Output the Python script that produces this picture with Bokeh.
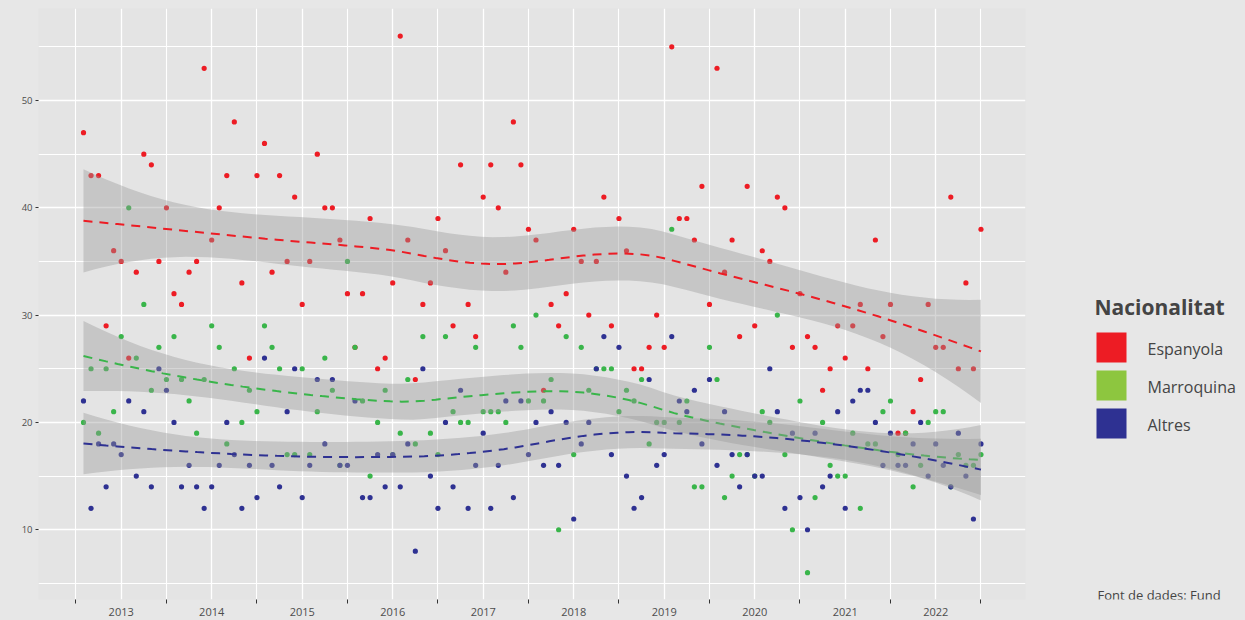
import numpy as np
from bokeh.plotting import figure
from bokeh.models import Range1d, FixedTicker
from bokeh.layouts import row
from bokeh.embed import file_html
from bokeh.resources import INLINE
from bokeh.core.properties import value

# ---------------- data ----------------
START_YEAR = 2012
START_MONTH = 8          # first observation: August 2012, monthly
N_MONTHS = 120

espanyola = [47, 43, 43, 29, 36, 35, 26, 34, 45, 44, 35, 40, 32, 31, 34, 35, 53, 37, 40, 43,
             48, 33, 26, 43, 46, 34, 43, 35, 41, 31, 35, 45, 40, 40, 37, 32, 27, 32, 39, 25, 26, 33,
             56, 37, 24, 31, 33, 39, 36, 29, 44, 31, 28, 41, 44, 40, 34, 48, 44, 38, 37, 23, 31, 29,
             32, 38, 35, 30, 35, 41, 29, 39, 36, 25, 25, 27, 30, 27, 55, 39, 39, 37, 42, 31, 53, 34,
             37, 28, 42, 29, 36, 35, 41, 40, 27, 32, 28, 27, 23, 25, 29, 26, 29, 31, 25, 37, 28, 31,
             19, 19, 21, 24, 31, 27, 27, 41, 25, 33, 25, 38]

marroquina = [20, 25, 19, 25, 21, 28, 40, 26, 31, 23, 27, 24, 28, 24, 22, 19, 24, 29, 27, 18,
              25, 20, 23, 21, 29, 27, 25, 17, 17, 25, 17, 21, 26, 23, 16, 35, 27, 22, 15, 20, 23, 17,
              19, 24, 18, 28, 19, 17, 28, 21, 20, 20, 27, 21, 21, 21, 20, 29, 27, 22, 30, 22, 24, 10,
              28, 17, 27, 23, 25, 25, 25, 21, 23, 22, 24, 18, 20, 20, 38, 20, 22, 14, 14, 27, 24, 13,
              15, 17, 17, 15, 21, 20, 30, 17, 10, 22, 6, 13, 20, 16, 15, 15, 19, 12, 18, 18, 21, 22,
              17, 19, 14, 16, 20, 21, 21, 14, 17, 16, 16, 17]

altres = [22, 12, 18, 14, 18, 17, 22, 15, 21, 14, 25, 23, 20, 14, 16, 14, 12, 14, 16, 20,
          17, 12, 16, 13, 26, 16, 14, 21, 25, 13, 16, 24, 18, 24, 16, 16, 22, 13, 13, 17, 14, 17,
          14, 18, 8, 25, 15, 12, 20, 14, 23, 12, 16, 19, 12, 16, 22, 13, 22, 17, 20, 16, 21, 16,
          20, 11, 18, 20, 25, 28, 17, 27, 15, 12, 13, 24, 16, 17, 28, 22, 21, 23, 18, 24, 16, 21,
          17, 14, 17, 15, 15, 25, 21, 12, 19, 13, 10, 19, 14, 15, 21, 12, 22, 23, 23, 20, 16, 19,
          16, 16, 18, 20, 15, 18, 16, 14, 19, 15, 11, 18]

SERIES_NAMES = ["Espanyola", "Marroquina", "Altres"]
POINT_COLORS = ["#ED1C24", "#39B54A", "#2E3192"]
LEGEND_COLORS = ["#ED1C24", "#8DC63F", "#2E3192"]
YEAR_TICKS = [2013, 2014, 2015, 2016, 2017, 2018, 2019, 2020, 2021, 2022]
YEAR_LABELS = ["2013", "2014", "2015", "2016", "2017", "2018", "2019", "2020", "2021", "2022"]
Y_TICKS = [10, 20, 30, 40, 50]
Y_MINOR = [5, 15, 25, 35, 45, 55]
LEGEND_TITLE = "Nacionalitat"
SOURCE_TEXT = "Font de dades: Fund"

PANEL_BG = "#E4E4E4"
OUTER_BG = "#E7E7E7"
FONT = "Open Sans"

# month positions as decimal years
months = np.arange(N_MONTHS)
xdates = START_YEAR + (START_MONTH - 1 + months) / 12.0


# ---------------- loess (span .75, degree 2) with 95% band ----------------
def _t975(df):
    z = 1.959964
    g1 = (z ** 3 + z) / 4
    g2 = (5 * z ** 5 + 16 * z ** 3 + 3 * z) / 96
    g3 = (3 * z ** 7 + 19 * z ** 5 + 17 * z ** 3 - 15 * z) / 384
    return z + g1 / df + g2 / df ** 2 + g3 / df ** 3


def loess_band(x, y, n_out=80, span=0.75):
    x = np.asarray(x, float)
    y = np.asarray(y, float)
    n = len(x)
    q = int(np.floor(n * span))

    def row_op(x0):
        d = np.abs(x - x0)
        h = np.sort(d)[q - 1]
        u = d / h
        w = np.where(u < 1, (1 - u ** 3) ** 3, 0.0)
        X = np.vstack([np.ones(n), x - x0, (x - x0) ** 2]).T
        XtW = X.T * w
        return np.linalg.solve(XtW @ X, XtW)[0]

    L = np.array([row_op(xi) for xi in x])
    res = y - L @ y
    IL = np.eye(n) - L
    M = IL.T @ IL
    d1 = np.trace(M)
    d2 = np.trace(M @ M)
    s = np.sqrt(np.sum(res ** 2) / d1)
    tq = _t975(d1 ** 2 / d2)
    xs = np.linspace(x.min(), x.max(), n_out)
    fit, se = [], []
    for x0 in xs:
        l = row_op(x0)
        fit.append(l @ y)
        se.append(s * np.sqrt(np.sum(l ** 2)))
    fit = np.array(fit)
    se = np.array(se)
    return xs, fit, fit - tq * se, fit + tq * se


# ---------------- main figure ----------------
TOP_B, BOTTOM_B = 8, 21
p = figure(width=1029, height=620, output_backend="svg", toolbar_location=None,
           x_range=Range1d(2012.0862, 2022.992), y_range=Range1d(3.50, 58.57),
           min_border_left=38, min_border_right=4, min_border_top=TOP_B, min_border_bottom=BOTTOM_B)
p.background_fill_color = PANEL_BG
p.border_fill_color = OUTER_BG
p.outline_line_color = None

p.xaxis.ticker = FixedTicker(ticks=YEAR_TICKS, minor_ticks=[y + 0.5 for y in range(2012, 2023)])
p.xaxis.major_label_overrides = {t: lab for t, lab in zip(YEAR_TICKS, YEAR_LABELS)}
p.yaxis.ticker = FixedTicker(ticks=Y_TICKS, minor_ticks=Y_MINOR)

for ax in (p.xaxis, p.yaxis):
    ax.axis_line_color = None
    ax.major_label_text_font = FONT
    ax.major_label_text_color = "#4D4D4D"

p.xaxis.major_tick_line_color = None
p.xaxis.minor_tick_line_color = "#333333"
p.xaxis.minor_tick_out = 4
p.xaxis.minor_tick_in = 0
p.xaxis.major_label_standoff = 2
p.xaxis.major_label_text_font_size = "11px"

p.yaxis.minor_tick_line_color = None
p.yaxis.major_tick_line_color = "#333333"
p.yaxis.major_tick_out = 3
p.yaxis.major_tick_in = 0
p.yaxis.major_label_standoff = 2
p.yaxis.major_label_text_font_size = "9.5px"

for g in (p.xgrid, p.ygrid):
    g.grid_line_color = "white"
    g.grid_line_width = 1.3
    g.minor_grid_line_color = "white"
    g.minor_grid_line_width = 1.1

series_values = [espanyola, marroquina, altres]

# points first (drawn under the smoothing ribbons)
for vals, col in zip(series_values, POINT_COLORS):
    p.scatter(xdates, vals, size=5.2, fill_color=col, line_color=None)

# loess ribbons and dashed lines
for vals, col in zip(series_values, POINT_COLORS):
    xs, fit, lo, hi = loess_band(xdates, vals)
    p.varea(x=xs, y1=lo, y2=hi, fill_color="#999999", fill_alpha=0.4)
    p.line(xs, fit, line_color=col, line_width=2, line_dash="9 7")

# ---------------- legend panel (coordinates = page pixels) ----------------
LG_W = 1245 - 1029
lg = figure(width=LG_W, height=620, output_backend="svg", toolbar_location=None,
            x_range=Range1d(1029, 1245), y_range=Range1d(620 - BOTTOM_B, TOP_B),
            x_axis_type=None, y_axis_type=None,
            min_border_left=0, min_border_right=0, min_border_top=TOP_B, min_border_bottom=BOTTOM_B)
lg.background_fill_color = OUTER_BG
lg.border_fill_color = OUTER_BG
lg.outline_line_color = None
lg.xgrid.visible = False
lg.ygrid.visible = False

lg.text(x=[1094], y=[306], text=[LEGEND_TITLE], text_font=value(FONT), text_font_size="21px",
        text_color="#444444", text_baseline="middle", text_font_style="bold")
sw_top = [332, 370, 408]
lg.quad(left=[1096] * 3, right=[1126] * 3, top=sw_top, bottom=[t + 30 for t in sw_top],
        fill_color=LEGEND_COLORS, line_color=None)
lg.text(x=[1147] * 3, y=[t + 16 for t in sw_top], text=SERIES_NAMES, text_font=value(FONT),
        text_font_size="16px", text_color="#444444", text_baseline="middle")
lg.text(x=[1097], y=[594], text=[SOURCE_TEXT], text_font=value(FONT), text_font_size="13px",
        text_color="#444444", text_baseline="alphabetic")

layout = row(p, lg, spacing=0)
layout.styles = {"background-color": OUTER_BG}
open("out.html", "w").write(file_html(layout, INLINE))
